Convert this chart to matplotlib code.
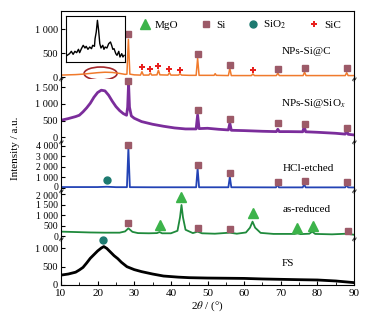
import matplotlib
matplotlib.use("Agg")
import matplotlib.pyplot as plt
from matplotlib.patches import Ellipse
from matplotlib.ticker import FuncFormatter, MultipleLocator
from matplotlib.transforms import ScaledTranslation

plt.rcParams["font.family"] = ["Liberation Serif", "DejaVu Serif"]
plt.rcParams["mathtext.fontset"] = "stix"
plt.rcParams["font.size"] = 8

# ---- data ----
# NPs-Si@C (orange)
c_x = [10, 12, 14, 16, 18, 20, 22, 24, 26, 27.5, 28.0, 28.4, 28.8, 30, 31.7, 32.1, 32.5,
       34.0, 34.4, 34.8, 36.2, 36.6, 37.0, 39.2, 39.6, 40.0, 42.1, 42.5, 42.9, 45, 46.9,
       47.3, 47.7, 50, 51.8, 52.1, 52.4, 55.7, 56.1, 56.5, 60, 62.0, 62.4, 62.8, 66, 68.8,
       69.2, 69.6, 73, 76.1, 76.5, 76.9, 82, 87.6, 88.0, 88.4, 90]
c_y = [40, 45, 50, 60, 75, 90, 100, 95, 75, 55, 60, 785, 60, 45, 40, 110, 40,
       40, 85, 40, 45, 140, 45, 40, 90, 40, 40, 70, 40, 35, 35,
       390, 35, 35, 35, 70, 35, 30, 180, 30, 30, 30, 65, 30, 30, 30,
       80, 30, 30, 30, 100, 30, 30, 30, 90, 30, 30]

# NPs-Si@SiOx (purple)
o_x = [10, 12, 14, 15, 16, 17, 18, 19, 20, 21, 22, 23, 24, 25, 26, 27, 27.9, 28.2, 28.45,
       28.7, 29.2, 30, 32, 35, 38, 41, 44, 46.9, 47.3, 47.7, 50, 53, 55.7, 56.1, 56.5, 60,
       65, 68.8, 69.2, 69.6, 72, 76.0, 76.4, 76.8, 80, 85, 87.6, 88.0, 88.4, 90]
o_y = [510, 560, 620, 660, 760, 880, 1020, 1200, 1340, 1410, 1390, 1260, 1080, 920, 800,
       710, 660, 900, 1620, 900, 640, 570, 470, 390, 330, 280, 250, 250, 670, 260, 270,
       240, 220, 420, 210, 200, 180, 170, 240, 170, 170, 165, 320, 165, 150, 120, 95, 200,
       90, 70]

# HCl-etched (blue)
h_x = [10, 20, 22.5, 25, 28.0, 28.4, 28.8, 35, 46.9, 47.3, 47.7, 55.7, 56.1, 56.5, 68.7,
       69.1, 69.5, 76.0, 76.4, 76.8, 87.6, 88.0, 88.4, 90]
h_y = [60, 60, 90, 50, 50, 3800, 50, 40, 40, 1850, 40, 40, 1050, 40, 30, 320, 30, 30, 320,
       30, 30, 260, 30, 20]

# as-reduced (green)
r_x = [10, 14, 18, 22, 26, 27.5, 28.4, 29.5, 31, 34, 36.2, 36.9, 37.6, 40, 41.8, 42.5,
       42.9, 43.3, 44, 46, 47.3, 48.5, 52, 56.1, 58, 60.5, 61.6, 62.3, 63.0, 64.5, 68, 73.8,
       74.6, 75.4, 77.8, 78.6, 79.4, 84, 88.0, 90]
r_y = [210, 190, 170, 160, 160, 220, 370, 200, 140, 130, 140, 190, 130, 130, 250, 900,
       1490, 900, 300, 140, 210, 130, 110, 160, 110, 170, 400, 690, 400, 150, 100, 100, 130,
       90, 110, 210, 100, 80, 110, 60]

# FS (black)
f_x = [10, 12, 14, 15, 16, 17, 18, 19, 20, 21, 21.7, 22.5, 23.5, 24.5, 25.5, 26.5, 28, 30,
       32, 35, 38, 42, 45, 50, 55, 60, 65, 70, 75, 80, 85, 90]
f_y = [270, 300, 350, 410, 480, 600, 730, 830, 930, 1010, 1050, 1000, 900, 800, 720, 620,
       500, 420, 365, 300, 245, 215, 200, 190, 185, 180, 165, 155, 145, 137, 110, 65]

# inset (zoom of NPs-Si@C around 16-26 deg)
in_x = [16.2, 16.6, 16.9, 17.2, 17.5, 17.8, 18.1, 18.3, 18.6, 18.9, 19.2, 19.4, 19.7,
        20.0, 20.3, 20.5, 20.8, 20.9, 21.1, 21.3, 21.5, 21.7, 21.9, 22.2, 22.4, 22.6, 22.9,
        23.2, 23.5, 23.7, 23.9, 24.1, 24.4, 24.6, 24.9, 25.1, 25.4, 25.6, 25.8]
in_y = [10, 15, 22, 13, 22, 18, 28, 18, 30, 40, 32, 37, 28, 35, 30, 40, 37, 60, 80, 115,
        85, 45, 32, 40, 28, 35, 32, 45, 50, 40, 28, 30, 15, 10, 22, 5, 15, 5, 10]

# phase markers
si_x = [28.4, 47.3, 56.1, 69.2, 76.5, 88.0]
si_c_y = [890, 480, 250, 160, 195, 180]
si_o_y = [1690, 817, 540, 420, 400, 290]
si_h_y = [4050, 2160, 1370, 570, 670, 510]
sic_x = [32.0, 34.3, 36.6, 39.6, 42.5, 62.4]
sic_y = [202, 160, 229, 167, 146, 146]
si_r_x = [28.4, 47.3, 56.1, 88.3]
si_r_y = [610, 400, 320, 255]
mgo_x = [36.9, 42.9, 62.3, 74.4, 78.8]
mgo_y = [530, 1890, 1090, 370, 480]
sio2_h = (22.5, 730)
sio2_f = (21.6, 1230)

names = ["NPs-Si@C", "NPs-Si@SiO$_x$", "HCl-etched", "as-reduced", "FS"]
colors = ["#f07a2c", "#7b2d9b", "#2343b5", "#1f8a3c", "black"]
lws = [1.1, 2.0, 1.3, 1.3, 2.0]
ylims = [(-31, 1375), (-111, 1760), (-220, 4450), (-120, 2210), (0, 1270)]
yticks = [[0, 500, 1000], [0, 500, 1000, 1500], [0, 1000, 2000, 3000, 4000],
          [0, 500, 1000, 1500, 2000], [0, 500, 1000]]
label_pos = [(77.1, 527), (78.9, 1018), (77.5, 1850), (77.1, 1250), (72, 600)]
series = [(c_x, c_y), (o_x, o_y), (h_x, h_y), (r_x, r_y), (f_x, f_y)]

mgo_c, si_col, sio2_col, sic_col = "#3cb34a", "#9c5a68", "#1d7a70", "#e8201e"

W, H = 374, 321
fig = plt.figure(figsize=(W / 100, H / 100), dpi=100)
bounds = [11, 78.5, 141, 190, 238.5, 285]
left, right = 61, 354

fmt = FuncFormatter(lambda v, p: f"{int(v):,}".replace(",", " "))
axes = []
for i in range(5):
    top, bot = bounds[i], bounds[i + 1]
    ax = fig.add_axes([left / W, 1 - bot / H, (right - left) / W, (bot - top) / H])
    x, y = series[i]
    ax.plot(x, y, color=colors[i], lw=lws[i])
    ax.set_xlim(10, 90)
    ax.set_ylim(*ylims[i])
    ax.set_yticks(yticks[i])
    ax.yaxis.set_major_formatter(fmt)
    ax.tick_params(axis="y", direction="in", length=3, pad=2,
                   labelsize=7 if i in (2, 3) else 7.5)
    ax.text(*label_pos[i], names[i], ha="center", va="center", fontsize=8)
    if i > 0:
        ax.spines["top"].set_visible(False)
    if i < 4:
        ax.spines["bottom"].set_visible(False)
        ax.set_xticks([])
    axes.append(ax)

ax1, ax2, ax3, ax4, ax5 = axes

# nudge the crowded tick labels at the HCl / as-reduced boundary apart
fig.canvas.draw()
zero_lbl = ax3.get_yticklabels()[0]
zero_lbl.set_transform(zero_lbl.get_transform() + ScaledTranslation(0, 1.5 / 100, fig.dpi_scale_trans))
top_lbl = ax4.get_yticklabels()[-1]
top_lbl.set_transform(top_lbl.get_transform() + ScaledTranslation(0, -1.5 / 100, fig.dpi_scale_trans))

ms_si = 4.5
ax1.plot(si_x, si_c_y, "s", color=si_col, ms=ms_si, clip_on=False)
ax1.plot(sic_x, sic_y, "P", color=sic_col, ms=4.5, mew=0)
ax2.plot(si_x, si_o_y, "s", color=si_col, ms=ms_si, clip_on=False)
ax3.plot(si_x, si_h_y, "s", color=si_col, ms=ms_si, clip_on=False)
ax3.plot(*sio2_h, "o", color=sio2_col, ms=5)
ax4.plot(si_r_x, si_r_y, "s", color=si_col, ms=ms_si)
ax4.plot(mgo_x, mgo_y, "^", color=mgo_c, ms=6.5, clip_on=False)
ax5.plot(*sio2_f, "o", color=sio2_col, ms=5, clip_on=False)

ax1.add_patch(Ellipse((20.8, 73), 9, 270, fill=False, ec="#a3282b", lw=1.2, clip_on=False))

# legend
h_mgo, = ax1.plot([], [], "^", color=mgo_c, ms=6.5)
h_si, = ax1.plot([], [], "s", color=si_col, ms=ms_si)
h_sio2, = ax1.plot([], [], "o", color=sio2_col, ms=5)
h_sic, = ax1.plot([], [], "P", color=sic_col, ms=4.5, mew=0)
ax1.legend([h_mgo, h_si, h_sio2, h_sic], ["MgO", "Si", "SiO$_2$", "SiC"], ncol=4,
           loc="upper right", bbox_to_anchor=(0.99, 1.03), frameon=False, fontsize=8,
           handletextpad=0.3, columnspacing=1.9, handlelength=1.2)

ax5.set_xticks(range(10, 91, 10))
ax5.xaxis.set_minor_locator(MultipleLocator(5))
ax5.tick_params(axis="x", which="both", direction="in", labelsize=8, pad=3)
ax5.tick_params(axis="x", which="major", length=3)
ax5.tick_params(axis="x", which="minor", length=2)
ax5.set_xlabel("2$\\theta$ / (°)", fontsize=8, labelpad=1)

fig.text(15 / W, 1 - 148 / H, "Intensity / a.u.", rotation=90, ha="center", va="center",
         fontsize=8)

# axis break marks
for b in bounds[1:-1]:
    for xp in (left, right):
        fig.text(xp / W, 1 - b / H, "≈", rotation=60, ha="center", va="center",
                 fontsize=6, family="DejaVu Sans")

# inset
ins = fig.add_axes([66 / W, 1 - 62 / H, 59.3 / W, 46 / H])
ins.plot(in_x, in_y, color="black", lw=1)
ins.set_xlim(16, 26)
ins.set_ylim(-10, 128)
ins.set_xticks([])
ins.set_yticks([])

fig.savefig("out.png", dpi=100)
